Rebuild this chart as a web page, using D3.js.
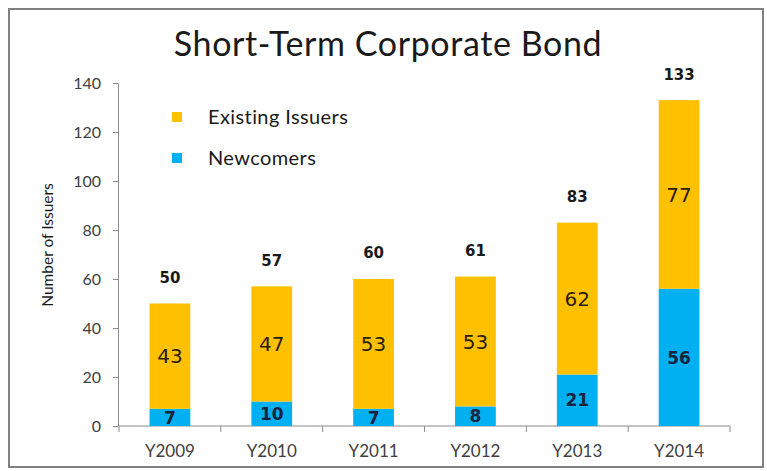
<!DOCTYPE html>
<meta charset="utf-8">
<style>
  body { margin: 0; background: #fff; }
  .axis path, .axis line { stroke: #8c8c8c; }
  .axis text { font-family: Lato, "Open Sans", sans-serif; fill: #404040; }
</style>
<script src="https://d3js.org/d3.v7.min.js"></script>
<div id="chart"></div>
<script>

// data
var years = ["Y2009", "Y2010", "Y2011", "Y2012", "Y2013", "Y2014"];
var newcomers = [7, 10, 7, 8, 21, 56];
var existing = [43, 47, 53, 53, 62, 77];
var totals = [50, 57, 60, 61, 83, 133];
var yTicks = [0, 20, 40, 60, 80, 100, 120, 140];
var seriesNames = ["Existing Issuers", "Newcomers"];
var seriesColors = ["#FFC000", "#00B0F0"];

var width = 767, height = 471;

var svg = d3.select("#chart")
  .append("svg")
  .attr("width", width)
  .attr("height", height);

// frame
svg.append("rect")
  .attr("x", 9).attr("y", 9)
  .attr("width", 754).attr("height", 458)
  .attr("fill", "#fff")
  .attr("stroke", "#808080")
  .attr("stroke-width", 2);

var x = d3.scaleBand()
  .domain(years)
  .range([119, 730])
  .paddingInner(0.6)
  .paddingOuter(0.3);

var y = d3.scaleLinear()
  .domain([0, 140])
  .range([426, 83]);

// y axis
var yAxis = svg.append("g")
  .attr("class", "axis")
  .attr("transform", "translate(" + 118 + ",0)")
  .call(d3.axisLeft(y).tickValues(yTicks).tickSize(5).tickPadding(12).tickSizeOuter(0));
yAxis.selectAll("text").style("font-size", "16px");

// x axis, labels only, ticks drawn on band edges below
var xAxis = svg.append("g")
  .attr("class", "axis")
  .attr("transform", "translate(0," + y(0) + ")")
  .call(d3.axisBottom(x).tickSize(0).tickPadding(19));
xAxis.select(".domain").attr("d", "M" + x.range()[0] + ",0H" + x.range()[1]);
xAxis.selectAll("text").style("font-size", "17px");

var edges = years.map(function(d) { return x(d) - x.step() * x.paddingOuter(); });
edges.push(x.range()[1]);
xAxis.selectAll(".edge")
  .data(edges)
  .enter().append("line")
  .attr("class", "edge")
  .attr("x1", function(d) { return d; })
  .attr("x2", function(d) { return d; })
  .attr("y1", 0).attr("y2", 6)
  .attr("stroke", "#8c8c8c");

// stacked bars
var rows = years.map(function(d, i) {
  return { year: d, Newcomers: newcomers[i], Existing: existing[i], total: totals[i] };
});
var stack = d3.stack().keys(["Newcomers", "Existing"])(rows);

var layers = svg.selectAll(".layer")
  .data(stack)
  .enter().append("g")
  .attr("class", "layer")
  .attr("fill", function(d, i) { return i == 0 ? seriesColors[1] : seriesColors[0]; });

layers.selectAll("rect")
  .data(function(d) { return d; })
  .enter().append("rect")
  .attr("x", function(d) { return x(d.data.year); })
  .attr("y", function(d) { return y(d[1]); })
  .attr("width", x.bandwidth())
  .attr("height", function(d) { return y(d[0]) - y(d[1]); });

// labels in the segments
svg.selectAll(".lblNew")
  .data(stack[0])
  .enter().append("text")
  .attr("x", function(d) { return x(d.data.year) + x.bandwidth() / 2; })
  .attr("y", function(d) { return y((d[0] + d[1]) / 2); })
  .attr("dy", "0.36em")
  .attr("text-anchor", "middle")
  .style("font-family", "'DejaVu Sans', Verdana, sans-serif")
  .style("font-weight", "bold")
  .style("font-size", "17px")
  .style("fill", "#16233f")
  .text(function(d) { return d.data.Newcomers; });

svg.selectAll(".lblOld")
  .data(stack[1])
  .enter().append("text")
  .attr("x", function(d) { return x(d.data.year) + x.bandwidth() / 2; })
  .attr("y", function(d) { return y((d[0] + d[1]) / 2); })
  .attr("dy", "0.36em")
  .attr("text-anchor", "middle")
  .style("font-family", "'DejaVu Sans', Verdana, sans-serif")
  .style("font-size", "20px")
  .style("fill", "#2b1d05")
  .text(function(d) { return d.data.Existing; });

// totals above bars
svg.selectAll(".lblTot")
  .data(rows)
  .enter().append("text")
  .attr("x", function(d) { return x(d.year) + x.bandwidth() / 2; })
  .attr("y", function(d) { return y(d.total) - 26; })
  .attr("dy", "0.36em")
  .attr("text-anchor", "middle")
  .style("font-family", "'DejaVu Sans', Verdana, sans-serif")
  .style("font-weight", "bold")
  .style("font-size", "15px")
  .style("fill", "#1a1a1a")
  .text(function(d) { return d.total; });

// title
svg.append("text")
  .attr("x", 388).attr("y", 56)
  .attr("text-anchor", "middle")
  .style("font-family", "Lato, 'Open Sans', sans-serif")
  .style("font-size", "34px")
  .style("letter-spacing", "0.6px")
  .style("fill", "#1a1a1a")
  .text("Short-Term Corporate Bond");

// y axis title
svg.append("text")
  .attr("transform", "translate(47,245) rotate(-90)")
  .attr("text-anchor", "middle")
  .attr("dy", "0.36em")
  .style("font-family", "Lato, 'Open Sans', sans-serif")
  .style("font-size", "15.5px")
  .style("fill", "#1a1a1a")
  .text("Number of Issuers");

// legend
var legend = svg.selectAll(".legend")
  .data(seriesNames)
  .enter().append("g")
  .attr("class", "legend")
  .attr("transform", function(d, i) { return "translate(172," + (112 + i * 41) + ")"; });

legend.append("rect")
  .attr("width", 10).attr("height", 10)
  .attr("fill", function(d, i) { return seriesColors[i]; });

legend.append("text")
  .attr("x", 36).attr("y", 5)
  .attr("dy", "0.36em")
  .style("font-family", "Lato, 'Open Sans', sans-serif")
  .style("font-size", "20px")
  .style("letter-spacing", "0.4px")
  .style("fill", "#1a1a1a")
  .text(function(d) { return d; });

</script>
